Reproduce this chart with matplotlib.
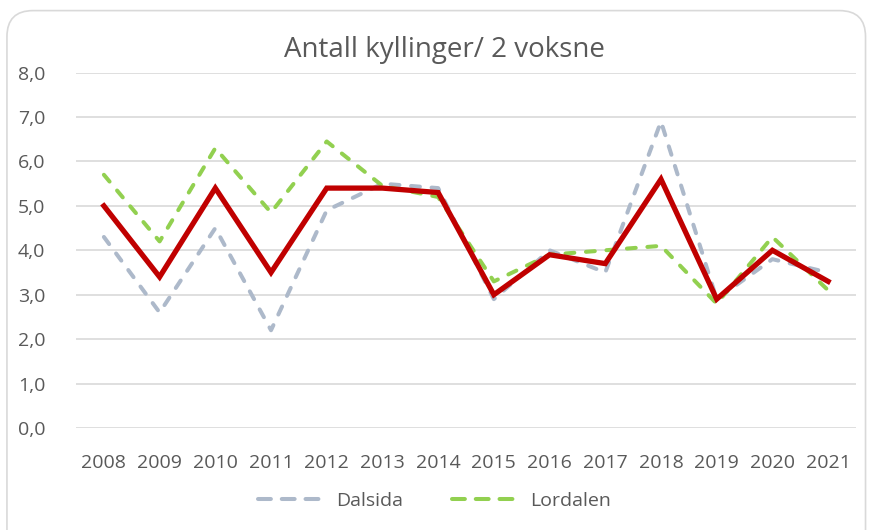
import matplotlib.pyplot as plt
from matplotlib.patches import FancyBboxPatch
from matplotlib.lines import Line2D

plt.rcParams['font.family'] = ['Open Sans', 'DejaVu Sans']

# Data
years = [str(y) for y in range(2008, 2022)]
dalsida = [4.3, 2.6, 4.5, 2.2, 4.9, 5.5, 5.4, 2.9, 4.0, 3.5, 6.9, 2.9, 3.8, 3.5]
lordalen = [5.7, 4.2, 6.3, 4.85, 6.45, 5.45, 5.2, 3.3, 3.9, 4.0, 4.1, 2.8, 4.3, 3.1]
snitt = [5.0, 3.4, 5.4, 3.5, 5.4, 5.4, 5.3, 3.0, 3.9, 3.7, 5.6, 2.9, 4.0, 3.3]
y_ticks = [0, 1, 2, 3, 4, 5, 6, 7, 8]

txt = '#595959'
grey = '#ADB9CA'
green = '#92D050'

fig = plt.figure(figsize=(8.69, 5.30), dpi=100)

# rounded frame around the chart
frame = FancyBboxPatch((0.008, -0.05), 0.988, 1.03, boxstyle='round,pad=0,rounding_size=0.03',
                       transform=fig.transFigure, facecolor='white', edgecolor='#D9D9D9',
                       linewidth=1.2, mutation_aspect=869 / 530, zorder=-5)
fig.patches.append(frame)

ax = fig.add_axes([0.0875, 0.1925, 0.8975, 0.6705])
ax.set_facecolor('none')

x = range(len(years))
dash = (0, (2.2, 2.9))
ax.plot(x, dalsida, color=grey, lw=2.9, linestyle=dash, dash_capstyle='round', zorder=3)
ax.plot(x, lordalen, color=green, lw=2.9, linestyle=dash, dash_capstyle='round', zorder=3)
ax.plot(x, snitt, color='#C00000', lw=3.8, solid_joinstyle='miter', zorder=4)

ax.set_xlim(-0.5, len(years) - 0.5)
ax.set_ylim(0, 8)
ax.set_yticks(y_ticks)
ax.set_yticklabels([f'{v:.1f}'.replace('.', ',') for v in y_ticks])
ax.set_xticks(list(x))
ax.set_xticklabels(years)
ax.grid(axis='y', color='#D9D9D9', linewidth=1.2)
ax.set_axisbelow(True)
for s in ax.spines.values():
    s.set_visible(False)
ax.tick_params(length=0, labelsize=14, colors=txt)
ax.tick_params(axis='x', pad=19)
ax.tick_params(axis='y', pad=22)

fig.text(0.511, 0.906, 'Antall kyllinger/ 2 voksne', ha='center', va='center',
         fontsize=20, color=txt)

# legend swatches: three longer dashes like the original
leg_dash = (0, (3.2, 2.7))
handles = [Line2D([], [], color=grey, lw=2.9, linestyle=leg_dash, dash_capstyle='round'),
           Line2D([], [], color=green, lw=2.9, linestyle=leg_dash, dash_capstyle='round')]
ax.legend(handles, ['Dalsida', 'Lordalen'], loc='center', bbox_to_anchor=(0.5, 0.055),
          bbox_transform=fig.transFigure, ncol=2, frameon=False, fontsize=14,
          labelcolor=txt, handlelength=3.3, columnspacing=2.5, handletextpad=0.7)

plt.savefig('out.png', dpi=100)
